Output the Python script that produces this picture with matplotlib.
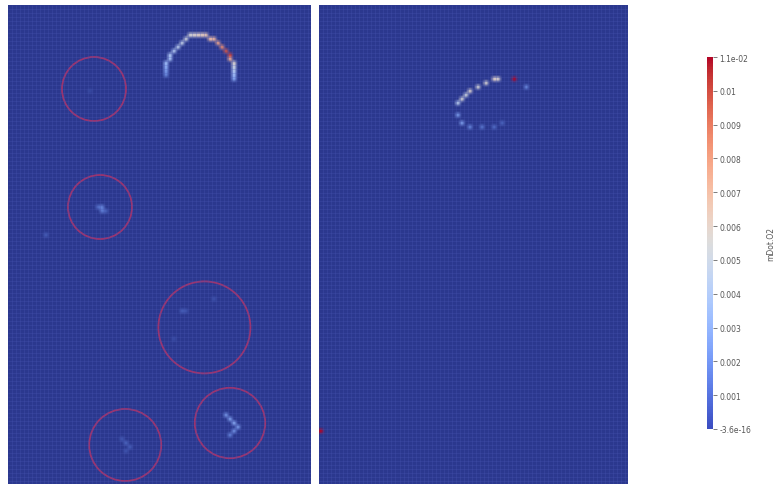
import matplotlib
matplotlib.use("Agg")
import matplotlib.pyplot as plt
import numpy as np
from matplotlib.colors import ListedColormap, Normalize
from matplotlib.patches import Circle

# field range of mDot.O2
vmin, vmax = -3.6e-16, 0.011

# grid size (cells) of the two slices
nx_left, nx_right, ny = 76, 77, 120

# non-zero cells of the left slice: (col, row, value)
left_cells = [
    (39, 17, 0.002), (39, 16, 0.0025), (39, 15, 0.003), (39, 14, 0.0035),
    (40, 13, 0.0038), (40, 12, 0.004), (41, 11, 0.0042), (42, 10, 0.0045),
    (43, 9, 0.0048), (44, 8, 0.0052), (45, 7, 0.0055), (46, 7, 0.0058),
    (47, 7, 0.006), (48, 7, 0.0062), (49, 7, 0.0065), (50, 8, 0.007),
    (51, 8, 0.0072), (52, 9, 0.0078), (53, 10, 0.0085), (54, 11, 0.0098),
    (55, 12, 0.0102), (55, 13, 0.0075), (56, 14, 0.0058), (56, 15, 0.005),
    (56, 16, 0.0042), (56, 17, 0.0035), (56, 18, 0.0028),
    # specks inside the marked droplets
    (22, 50, 0.0014), (23, 50, 0.0019), (23, 51, 0.0017), (24, 51, 0.0011),
    (43, 76, 0.001), (44, 76, 0.0008), (51, 73, 0.0007), (41, 83, 0.0006),
    (54, 102, 0.0024), (55, 103, 0.0027), (56, 104, 0.0029), (57, 105, 0.0025),
    (56, 106, 0.0023), (55, 107, 0.0019),
    (28, 108, 0.0009), (29, 109, 0.0012), (30, 110, 0.001), (29, 111, 0.0008),
    (9, 57, 0.001), (20, 21, 0.0005),
]

# non-zero cells of the right slice: (col, row, value)
right_cells = [
    (34, 24, 0.0045), (35, 23, 0.0055), (36, 22, 0.0052), (37, 21, 0.0058),
    (39, 20, 0.0055), (41, 19, 0.0057), (43, 18, 0.006), (44, 18, 0.0058),
    (48, 18, 0.011), (51, 20, 0.002),
    (34, 27, 0.0025), (35, 29, 0.0026), (37, 30, 0.002), (40, 30, 0.0016),
    (43, 30, 0.0014), (45, 29, 0.0012),
    (0, 106, 0.011),
]

# droplet markers on the left slice: centre col, centre row, radius (cells)
circle_x = [21.5, 23.0, 49.1, 55.5, 29.3]
circle_y = [21.0, 50.5, 80.6, 104.5, 110.0]
circle_r = [8.0, 8.0, 11.5, 8.8, 9.0]

tick_vals = [vmin, 0.001, 0.002, 0.003, 0.004, 0.005, 0.006,
             0.007, 0.008, 0.009, 0.01, vmax]
tick_text = ["-3.6e-16", "0.001", "0.002", "0.003", "0.004", "0.005", "0.006",
             "0.007", "0.008", "0.009", "0.01", "1.1e-02"]


def build_field(nx, cells):
    f = np.zeros((ny, nx))
    for c, r, v in cells:
        f[r, c] = v
    return f


# shaded version of coolwarm for the surfaces (lighting darkens the blue end)
base = plt.cm.coolwarm(np.linspace(0, 1, 256))
t = np.linspace(0, 1, 256)
shade = np.clip(0.74 + 0.9 * t, 0, 1)
panel_rgb = base.copy()
panel_rgb[:, :3] = base[:, :3] * shade[:, None]
panel_cmap = ListedColormap(panel_rgb)
norm = Normalize(vmin=vmin, vmax=vmax)

W, H = 777, 485
fig = plt.figure(figsize=(W / 100, H / 100), dpi=100)

ax_l = fig.add_axes([8 / W, 0, 303 / W, 479 / H])
ax_r = fig.add_axes([319 / W, 0, 309 / W, 479 / H])

for ax, nx, cells in [(ax_l, nx_left, left_cells), (ax_r, nx_right, right_cells)]:
    field = build_field(nx, cells)
    ax.imshow(field, cmap=panel_cmap, norm=norm, interpolation="bilinear",
              interpolation_stage="rgba", extent=(0, nx, ny, 0), aspect="auto")
    # mesh lines
    ax.vlines(np.arange(1, nx), 0, ny, color=(0.30, 0.36, 0.72), linewidth=0.5, alpha=0.35)
    ax.hlines(np.arange(1, ny), 0, nx, color=(0.30, 0.36, 0.72), linewidth=0.5, alpha=0.35)
    ax.set_xlim(0, nx - 0.25)
    ax.set_ylim(ny - 0.25, 0)
    ax.set_axis_off()

for cx, cy, r in zip(circle_x, circle_y, circle_r):
    ax_l.add_patch(Circle((cx, cy), r, fill=False, edgecolor=(0.66, 0.2, 0.42),
                          linewidth=1.3, alpha=0.9))

# colour bar
cax = fig.add_axes([707 / W, 1 - 430 / H, 6 / W, 372 / H])
sm = plt.cm.ScalarMappable(norm=norm, cmap=plt.cm.coolwarm)
cb = fig.colorbar(sm, cax=cax)
cb.outline.set_visible(False)
cb.set_ticks(tick_vals)
cb.set_ticklabels(tick_text)
cax.tick_params(axis="y", length=3, width=0.6, color="#666666",
                labelsize=5.5, labelcolor="#555555", pad=1.5)
fig.text(771 / W, 1 - 244 / H, "mDot.O2", rotation=90, fontsize=5.5,
         color="#555555", ha="center", va="center")

fig.savefig("out.png", dpi=100)
